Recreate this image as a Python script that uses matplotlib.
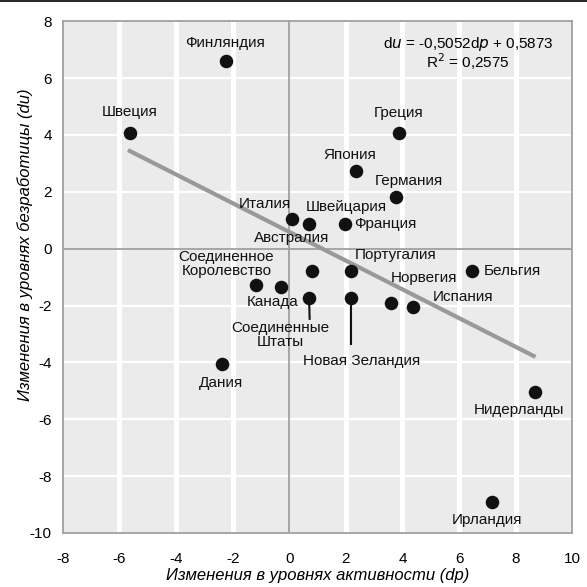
import numpy as np
import matplotlib
matplotlib.use("Agg")
import matplotlib.pyplot as plt
from matplotlib.lines import Line2D

plt.rcParams['font.family'] = ['Liberation Sans', 'DejaVu Sans']
plt.rcParams['axes.unicode_minus'] = False

# data
countries = ["Финляндия", "Швеция", "Греция", "Япония", "Германия", "Италия",
             "Швейцария", "Франция", "Португалия", "Австралия",
             "Соединенное\nКоролевство", "Канада", "Соединенные\nШтаты",
             "Новая Зеландия", "Норвегия", "Испания", "Бельгия", "Дания",
             "Нидерланды", "Ирландия"]
dp = [-2.25, -5.63, 3.87, 2.36, 3.77, 0.10, 0.70, 1.97, 2.18, 0.81,
      -1.16, -0.28, 0.70, 2.18, 3.60, 4.37, 6.44, -2.38, 8.67, 7.16]
du = [6.60, 4.06, 4.06, 2.72, 1.81, 1.04, 0.86, 0.86, -0.79, -0.79,
      -1.29, -1.36, -1.74, -1.74, -1.91, -2.05, -0.79, -4.07, -5.04, -8.90]

slope = -0.5052
intercept = 0.5873
fit_range = [-5.7, 8.7]

# label offsets (dx, dy in data units) and alignment
lab_pos = {
    "Финляндия": (-0.01, 0.63, "center"),
    "Швеция": (0.0, 0.74, "center"),
    "Греция": (0.0, 0.72, "center"),
    "Япония": (-0.24, 0.57, "center"),
    "Германия": (0.46, 0.57, "center"),
    "Италия": (-0.95, 0.53, "center"),
    "Швейцария": (1.31, 0.6, "center"),
    "Франция": (0.32, 0.0, "left"),
    "Португалия": (1.59, 0.57, "center"),
    "Австралия": (-0.74, 1.16, "center"),
    "Соединенное\nКоролевство": (-1.06, 0.75, "center"),
    "Канада": (-0.32, -0.52, "center"),
    "Соединенные\nШтаты": (-1.02, -1.3, "center"),
    "Новая Зеландия": (0.36, -2.21, "center"),
    "Норвегия": (1.16, 0.88, "center"),
    "Испания": (1.77, 0.35, "center"),
    "Бельгия": (0.44, 0.0, "left"),
    "Дания": (-0.02, -0.66, "center"),
    "Нидерланды": (-0.57, -0.63, "center"),
    "Ирландия": (-0.16, -0.65, "center"),
}

fig = plt.figure(figsize=(5.87, 5.87), dpi=100)
ax = fig.add_axes([0.107, 0.092, 0.868, 0.872])
ax.set_facecolor("#ebebeb")

for v in range(-6, 10, 2):
    if v != 0:
        ax.axvline(v, color="white", lw=3.6, zorder=0)
for v in range(-8, 8, 2):
    if v != 0:
        ax.axhline(v, color="white", lw=1.6, zorder=0)
ax.axvline(0, color="#a0a0a0", lw=1.3, zorder=1)
ax.axhline(0, color="#a0a0a0", lw=1.3, zorder=1)

xs = np.array(fit_range)
ax.plot(xs, slope * xs + intercept, color="#999999", lw=3.0, zorder=2,
        solid_capstyle="butt")

ax.scatter(dp, du, s=95, color="#111111", zorder=3, linewidths=0)

for name, x, y in zip(countries, dp, du):
    ddx, ddy, ha = lab_pos[name]
    ax.text(x + ddx, y + ddy, name, ha=ha, va="center", fontsize=11,
            color="#111111", linespacing=1.05, zorder=4)

# leader lines
ax.plot([0.70, 0.72], [-1.74, -2.47], color="#111111", lw=1.5, zorder=3)
ax.plot([2.18, 2.18], [-1.74, -3.36], color="#111111", lw=1.5, zorder=3)

ax.text(6.31, 7.19, r"d$\mathit{u}$ = -0,5052d$\mathit{p}$ + 0,5873",
        ha="center", va="center", fontsize=11)
ax.text(6.31, 6.56, r"R$^2$ = 0,2575", ha="center", va="center", fontsize=11)

ax.set_xlim(-8, 10)
ax.set_ylim(-10, 8)
ax.set_xticks(range(-8, 11, 2))
ax.set_yticks(range(-10, 9, 2))
ax.tick_params(length=0, labelsize=11)
ax.tick_params(axis="x", pad=14)
ax.tick_params(axis="y", pad=8)
for s in ax.spines.values():
    s.set_color("#a0a0a0")
    s.set_linewidth(1.3)

ax.set_xlabel("Изменения в уровнях активности (dp)", fontstyle="italic",
              fontsize=12, va="center")
ax.set_ylabel("Изменения в уровнях безработицы (du)", fontstyle="italic",
              fontsize=12, va="center")
ax.xaxis.set_label_coords(0.5, -0.084)
ax.yaxis.set_label_coords(-0.075, 0.5625)

fig.add_artist(Line2D([0, 1], [0.999, 0.999], color="black", lw=1.2,
                      transform=fig.transFigure))

fig.savefig("out.png", dpi=100)
